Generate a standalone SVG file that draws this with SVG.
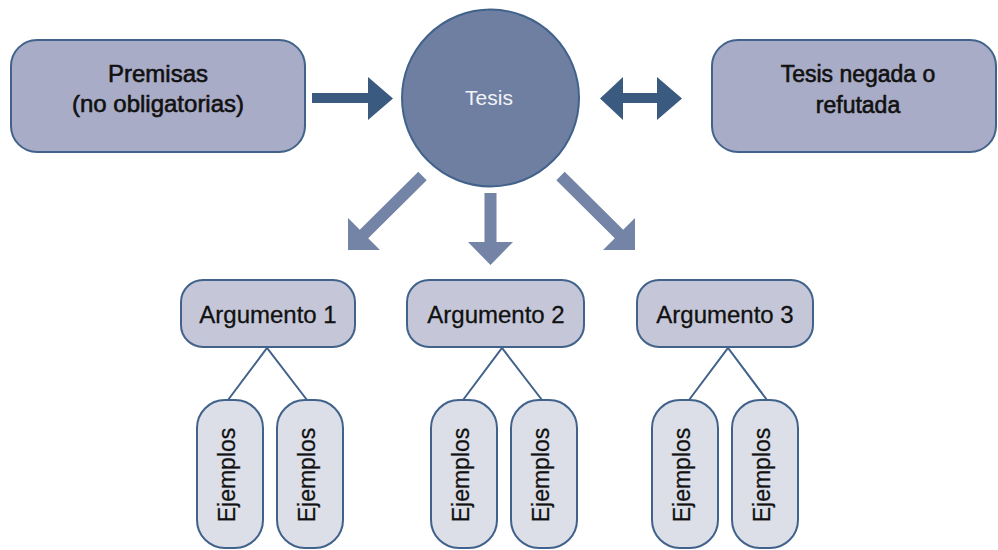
<svg xmlns="http://www.w3.org/2000/svg" width="998" height="550" viewBox="0 0 998 550">
<style>
  .top { fill: #a9acc7; stroke: #41628a; stroke-width: 2; }
  .arg { fill: #c5c7d8; stroke: #41628a; stroke-width: 2; }
  .ej { fill: #dcdee8; stroke: #41628a; stroke-width: 2; }
  .circ { fill: #6f7fa1; stroke: #41628a; stroke-width: 2; }
  .t { font-family: "Liberation Sans", Arial, sans-serif; fill: #111; text-anchor: middle; stroke: #111; stroke-width: 0.3; }
  .tb { stroke-width: 0.6; }
  .dark { fill: #3b5a80; }
  .light { fill: #7384a6; }
  .line { stroke: #41628a; stroke-width: 2; fill: none; }
</style>
<rect width="998" height="550" fill="#ffffff"/>
<g id="premisas">
  <rect class="top" x="11" y="40" width="294" height="112" rx="26"/>
  <text class="t tb" x="158" y="82" font-size="24">Premisas</text>
  <text class="t tb" x="158" y="112" font-size="24">(no obligatorias)</text>
</g>
<g id="tesis">
  <circle class="circ" cx="490.5" cy="98" r="88.5"/>
  <text class="t" x="489" y="105" font-size="21" style="fill:#f2f3f8;stroke:none">Tesis</text>
</g>
<g id="negada">
  <rect class="top" x="712" y="40" width="284" height="112" rx="26"/>
  <text class="t tb" x="858" y="82" font-size="23">Tesis negada o</text>
  <text class="t tb" x="858" y="113" font-size="23">refutada</text>
</g>
<g id="arg1">
  <rect class="arg" x="181" y="280" width="174" height="67" rx="22"/>
  <text class="t" x="268" y="323" font-size="24">Argumento 1</text>
</g>
<g id="arg2">
  <rect class="arg" x="407" y="280" width="177" height="67" rx="22"/>
  <text class="t" x="496" y="323" font-size="24">Argumento 2</text>
</g>
<g id="arg3">
  <rect class="arg" x="637" y="280" width="176" height="67" rx="22"/>
  <text class="t" x="725" y="323" font-size="24">Argumento 3</text>
</g>
<g id="ej1">
  <rect class="ej" x="197" y="400" width="66" height="148" rx="28"/>
  <text class="t" font-size="23" transform="translate(234.5,475) rotate(-90)">Ejemplos</text>
</g>
<g id="ej2">
  <rect class="ej" x="277" y="400" width="66" height="148" rx="28"/>
  <text class="t" font-size="23" transform="translate(314.5,475) rotate(-90)">Ejemplos</text>
</g>
<g id="ej3">
  <rect class="ej" x="431" y="400" width="66" height="148" rx="28"/>
  <text class="t" font-size="23" transform="translate(468.5,475) rotate(-90)">Ejemplos</text>
</g>
<g id="ej4">
  <rect class="ej" x="511" y="400" width="66" height="148" rx="28"/>
  <text class="t" font-size="23" transform="translate(548.5,475) rotate(-90)">Ejemplos</text>
</g>
<g id="ej5">
  <rect class="ej" x="652" y="400" width="66" height="148" rx="28"/>
  <text class="t" font-size="23" transform="translate(689.5,475) rotate(-90)">Ejemplos</text>
</g>
<g id="ej6">
  <rect class="ej" x="732" y="400" width="66" height="148" rx="28"/>
  <text class="t" font-size="23" transform="translate(769.5,475) rotate(-90)">Ejemplos</text>
</g>
<g id="connectors">
  <polygon class="dark" points="312,93 368,93 368,77 393,98.5 368,120 368,103 312,103"/>
  <polygon class="dark" points="600,98.5 623,77 623,93 657,93 657,77 682,98.5 657,120 657,103 623,103 623,120"/>
  <polygon class="light" points="418.3,171.8 426.7,180.2 368.2,238.2 380,250 348,250 348,218 359.8,229.8"/>
  <polygon class="light" points="564.7,171.8 556.3,180.2 614.8,238.2 603,250 635,250 635,218 623.2,229.8"/>
  <polygon class="light" points="484.5,193 496.5,193 496.5,242 513,242 490.5,265 468,242 484.5,242"/>
  <polyline class="line" points="228,400 267,348 307,400"/>
  <polyline class="line" points="463,400 502,348 542,400"/>
  <polyline class="line" points="689,400 728,348 767,400"/>
</g>
</svg>
